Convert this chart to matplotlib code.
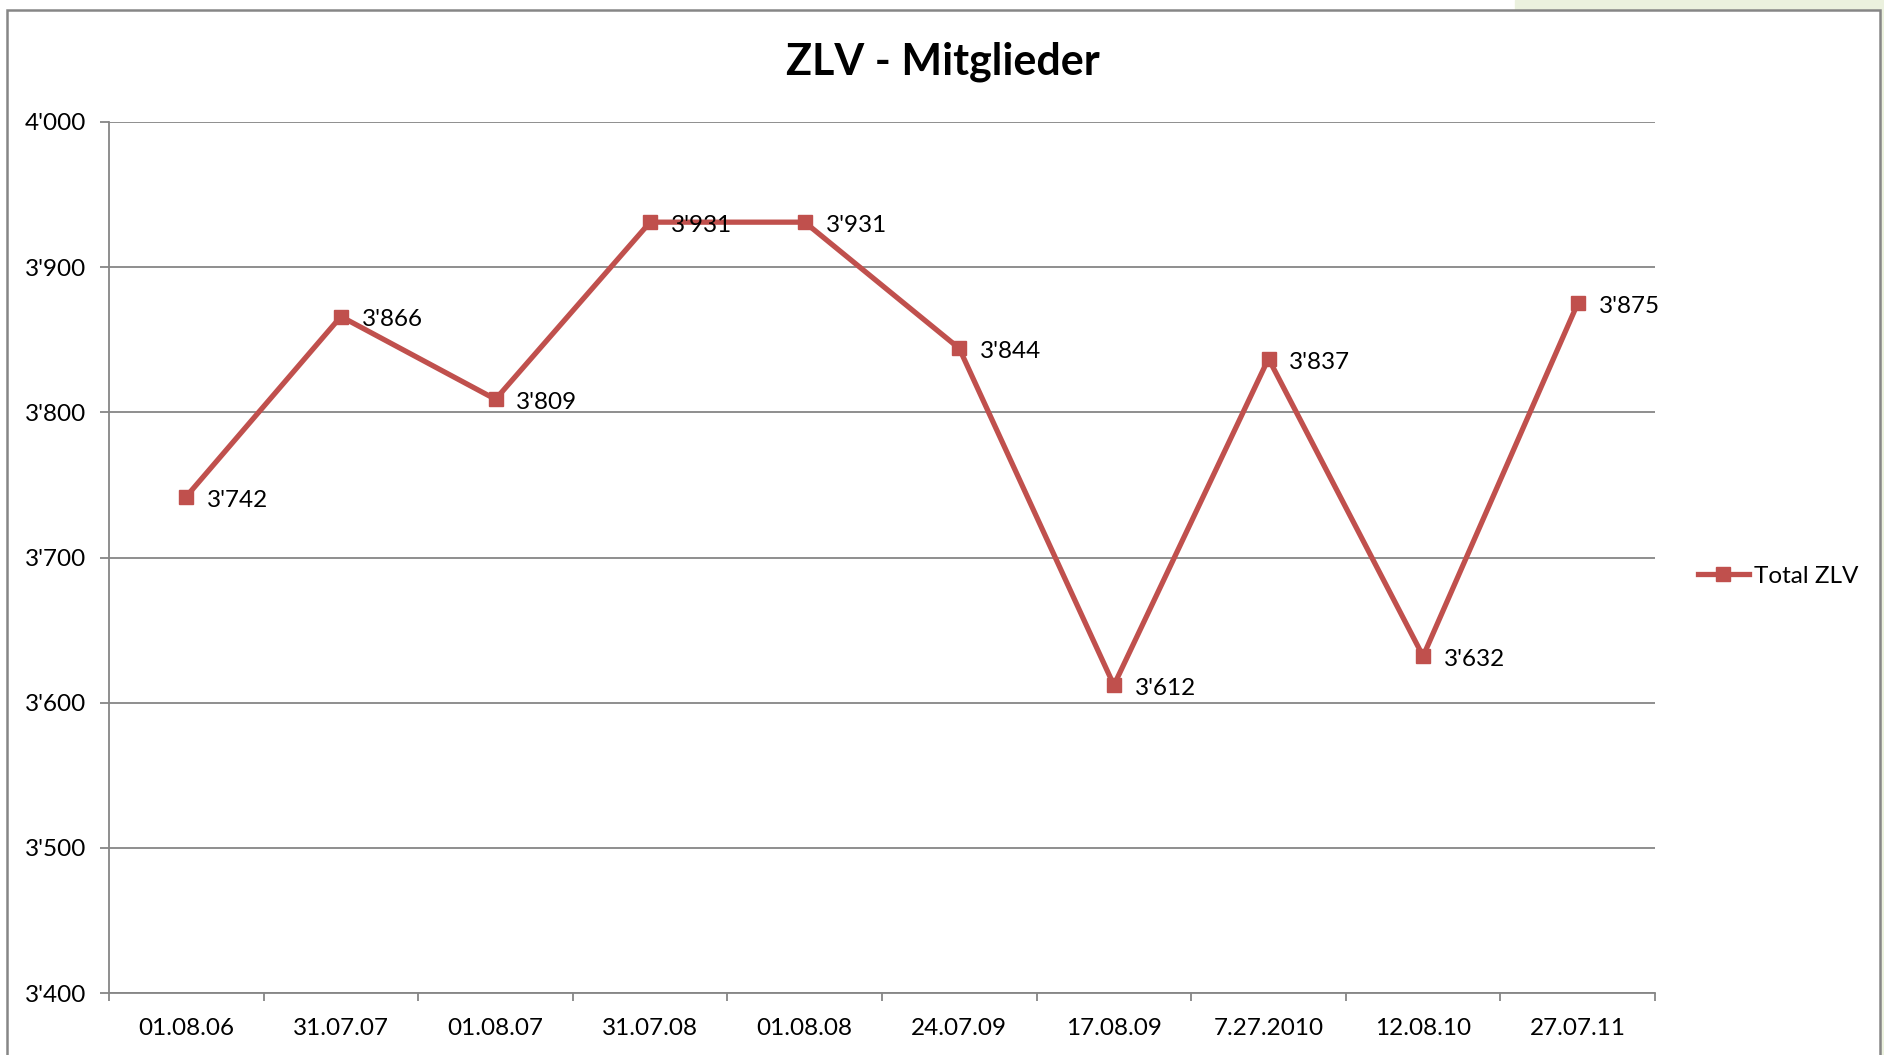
import matplotlib.pyplot as plt
from matplotlib.patches import Rectangle
from matplotlib.ticker import FuncFormatter, FixedLocator

plt.rcParams['font.family'] = ['Lato', 'DejaVu Sans']

dates = ["01.08.06", "31.07.07", "01.08.07", "31.07.08", "01.08.08",
         "24.07.09", "17.08.09", "7.27.2010", "12.08.10", "27.07.11"]
members = [3742, 3866, 3809, 3931, 3931, 3844, 3612, 3837, 3632, 3875]

W, H = 1884, 1055
grey = "#868686"
red = "#C0504D"
fs = 17.5

fig = plt.figure(figsize=(W / 100, H / 100), dpi=100)

# pale green background corner and chart frame
fig.patches.append(Rectangle((1515 / W, 1 - 10 / H), (W - 1515) / W, 10 / H,
                             transform=fig.transFigure, color="#EBF1DE", zorder=-2))
fig.patches.append(Rectangle((1880 / W, 0), 4 / W, 1, transform=fig.transFigure,
                             color="#EBF1DE", zorder=-2))
fig.patches.append(Rectangle((7 / W, -0.05), 1873 / W, 1.05 - 10 / H,
                             transform=fig.transFigure, facecolor="white",
                             edgecolor=grey, linewidth=1.8, zorder=-1))

ax = fig.add_axes([109 / W, 1 - 993 / H, (1655 - 109) / W, (993 - 122) / H])
ax.set_zorder(1)
ax.set_facecolor("none")

x = list(range(len(dates)))
ax.plot(x, members, color=red, linewidth=3.8, marker="s", markersize=10,
        label="Total ZLV", zorder=3)

for xi, v in zip(x, members):
    ax.annotate(f"{v // 1000}'{v % 1000:03d}", (xi, v), xytext=(15, -2.5),
                textcoords="offset points", va="center", ha="left", fontsize=fs)

ax.set_xlim(-0.5, len(dates) - 0.5)
ax.set_ylim(3400, 4000)
ax.set_yticks(range(3400, 4001, 100))
ax.yaxis.set_major_formatter(FuncFormatter(lambda v, p: f"{int(v) // 1000}'{int(v) % 1000:03d}"))
ax.grid(axis="y", color=grey, linewidth=1.3)
ax.set_axisbelow(True)

ax.set_xticks(x)
ax.set_xticklabels(dates)
ax.xaxis.set_minor_locator(FixedLocator([i - 0.5 for i in range(len(dates) + 1)]))
ax.tick_params(axis="x", which="major", length=0, pad=18, labelsize=fs)
ax.tick_params(axis="x", which="minor", length=6, width=1.3, color=grey, direction="out")
ax.tick_params(axis="y", length=6.5, width=1.3, color=grey, pad=10, labelsize=fs)

for s in ["top", "right"]:
    ax.spines[s].set_visible(False)
for s in ["left", "bottom"]:
    ax.spines[s].set_color(grey)
    ax.spines[s].set_linewidth(1.3)

fig.text(943 / W, 1 - 62 / H, "ZLV - Mitglieder",
         ha="center", va="center", fontsize=31, fontweight="bold")

ax.legend(loc="center left", bbox_to_anchor=(1688 / W, 1 - 576 / H),
          bbox_transform=fig.transFigure, frameon=False, fontsize=fs,
          handlelength=2.1, handletextpad=0.2, borderaxespad=0)

fig.savefig("out.png", dpi=100)
